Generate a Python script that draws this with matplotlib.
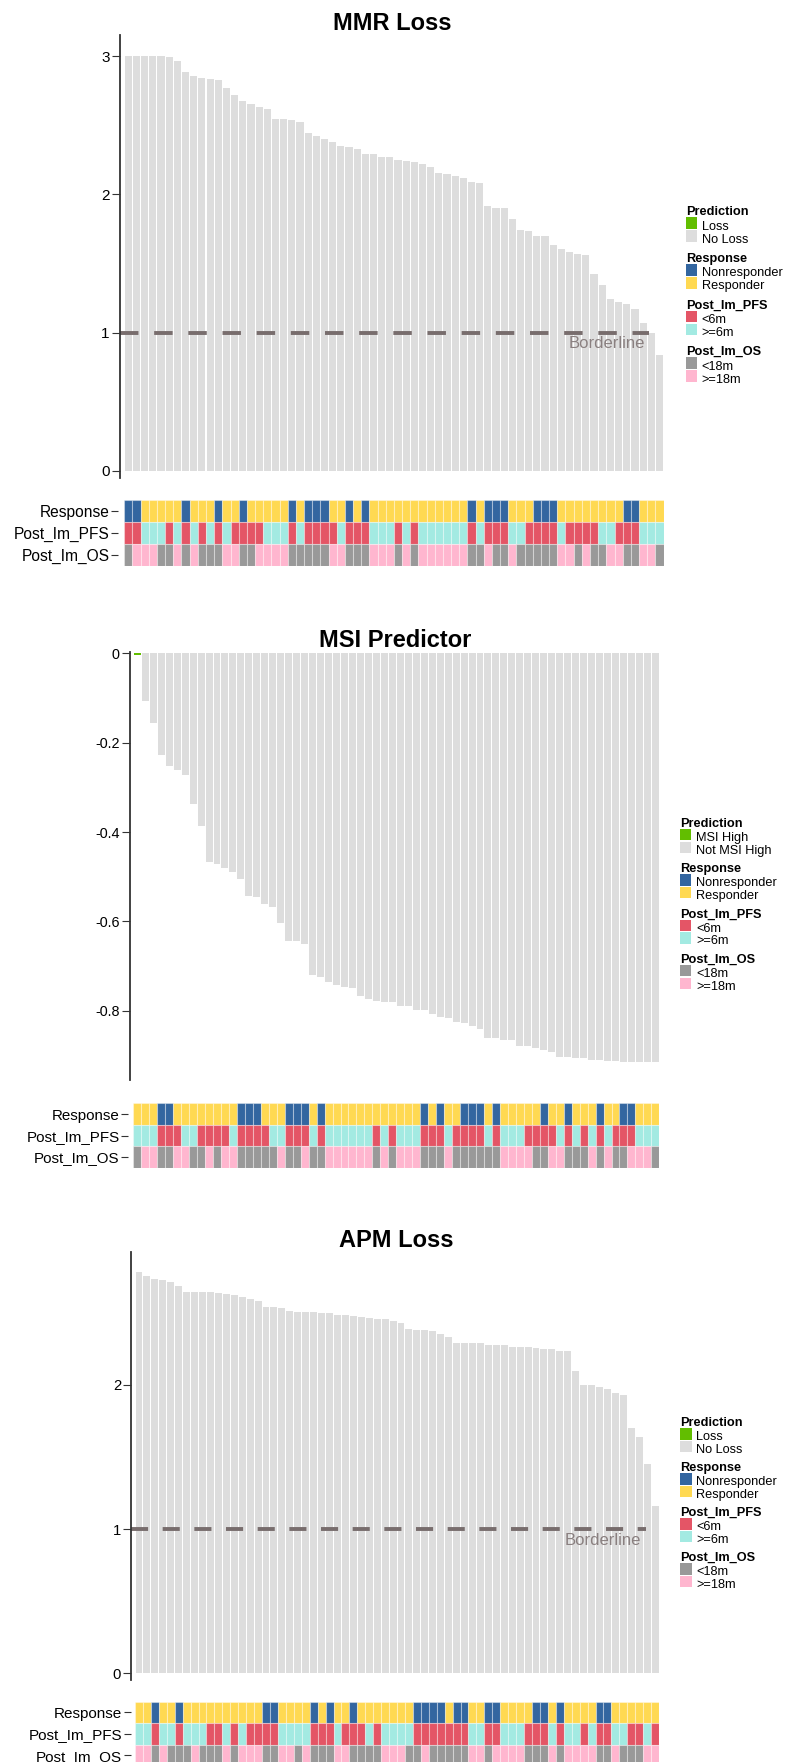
import matplotlib
matplotlib.use("Agg")
import matplotlib.pyplot as plt
from matplotlib.patches import Rectangle

plt.rcParams['font.family'] = ['Liberation Sans', 'DejaVu Sans']
plt.rcParams['axes.unicode_minus'] = False
plt.rcParams['lines.scale_dashes'] = False

# predictor scores per sample, already sorted for plotting
mmr_scores = [3.0, 3.0, 3.0, 3.0, 3.0, 2.99, 2.967, 2.883, 2.854, 2.84,
              2.837, 2.825, 2.767, 2.717, 2.673, 2.651, 2.63, 2.618, 2.545, 2.545,
              2.536, 2.524, 2.441, 2.422, 2.398, 2.381, 2.352, 2.345, 2.328, 2.294,
              2.294, 2.27, 2.268, 2.246, 2.244, 2.234, 2.222, 2.201, 2.153, 2.15,
              2.135, 2.118, 2.089, 2.08, 1.916, 1.904, 1.904, 1.819, 1.744, 1.732,
              1.698, 1.698, 1.631, 1.602, 1.585, 1.568, 1.558, 1.423, 1.341, 1.24,
              1.221, 1.206, 1.17, 1.066, 0.994, 0.837]
msi_scores = [-0.003, -0.106, -0.156, -0.228, -0.252, -0.26, -0.272, -0.337, -0.387, -0.466,
              -0.472, -0.481, -0.49, -0.506, -0.543, -0.545, -0.561, -0.567, -0.604, -0.644,
              -0.644, -0.651, -0.72, -0.724, -0.735, -0.742, -0.747, -0.749, -0.767, -0.774,
              -0.777, -0.781, -0.781, -0.79, -0.79, -0.798, -0.798, -0.808, -0.813, -0.816,
              -0.825, -0.828, -0.834, -0.841, -0.86, -0.86, -0.864, -0.864, -0.879, -0.879,
              -0.882, -0.887, -0.893, -0.903, -0.904, -0.906, -0.906, -0.909, -0.909, -0.912,
              -0.912, -0.914, -0.914, -0.914, -0.914, -0.914]
apm_scores = [2.781, 2.756, 2.735, 2.728, 2.712, 2.687, 2.647, 2.645, 2.645, 2.643,
              2.64, 2.633, 2.626, 2.608, 2.594, 2.585, 2.543, 2.539, 2.532, 2.511,
              2.509, 2.509, 2.504, 2.502, 2.497, 2.486, 2.483, 2.476, 2.472, 2.467,
              2.46, 2.458, 2.444, 2.43, 2.388, 2.384, 2.381, 2.372, 2.354, 2.335,
              2.294, 2.294, 2.294, 2.294, 2.277, 2.277, 2.277, 2.264, 2.264, 2.264,
              2.259, 2.25, 2.25, 2.236, 2.236, 2.097, 2.0, 2.0, 1.988, 1.972,
              1.945, 1.928, 1.702, 1.639, 1.45, 1.163]

# samples called positive (Loss / MSI High)
mmr_positive = []
msi_positive = [0]
apm_positive = []

# clinical tracks: 1 = Nonresponder, <6m, <18m ; 0 = Responder, >=6m, >=18m
mmr_response = [1, 1, 0, 0, 0, 0, 0, 1, 0, 0, 0, 1, 0, 0, 1, 0, 0, 0, 0, 0,
                1, 0, 1, 1, 1, 0, 0, 1, 0, 1, 0, 0, 0, 0, 0, 0, 0, 0, 0, 0,
                0, 0, 1, 0, 1, 1, 1, 0, 0, 0, 1, 1, 1, 0, 0, 0, 0, 0, 0, 0,
                0, 1, 1, 0, 0, 0]
mmr_pfs = [1, 1, 0, 0, 0, 1, 0, 1, 0, 1, 0, 1, 0, 1, 1, 1, 1, 0, 0, 0,
           1, 0, 1, 1, 1, 1, 0, 1, 1, 1, 0, 0, 0, 1, 0, 1, 0, 0, 0, 0,
           0, 0, 1, 0, 1, 1, 1, 0, 0, 1, 1, 1, 1, 0, 1, 1, 1, 1, 0, 0,
           1, 1, 1, 0, 0, 0]
mmr_os = [1, 0, 0, 0, 1, 1, 0, 1, 0, 1, 1, 1, 0, 0, 1, 1, 0, 0, 0, 0,
          1, 1, 1, 1, 1, 0, 0, 1, 1, 1, 0, 0, 0, 1, 0, 1, 0, 0, 0, 0,
          0, 0, 1, 1, 0, 1, 1, 0, 1, 1, 1, 1, 1, 0, 0, 1, 0, 1, 1, 0,
          0, 1, 1, 0, 0, 1]

msi_response = [0, 0, 0, 1, 1, 0, 0, 0, 0, 0, 0, 0, 0, 1, 1, 1, 0, 0, 0, 1,
                1, 1, 0, 1, 0, 0, 0, 0, 0, 0, 0, 0, 0, 0, 0, 0, 1, 0, 1, 0,
                0, 1, 1, 1, 0, 1, 0, 0, 0, 0, 0, 1, 0, 0, 1, 0, 0, 0, 1, 0,
                0, 1, 1, 0, 0, 0]
msi_pfs = [0, 0, 0, 1, 1, 1, 0, 0, 1, 1, 1, 1, 0, 1, 1, 1, 1, 0, 0, 1,
           1, 1, 0, 1, 0, 0, 0, 0, 0, 0, 1, 0, 1, 0, 0, 0, 1, 1, 1, 0,
           1, 1, 1, 1, 0, 1, 0, 0, 0, 1, 1, 1, 1, 0, 1, 0, 1, 0, 1, 0,
           1, 1, 1, 0, 0, 0]
msi_os = [1, 0, 0, 1, 1, 0, 0, 1, 1, 0, 1, 0, 0, 1, 1, 1, 1, 1, 0, 1,
          1, 0, 1, 1, 0, 0, 0, 0, 0, 0, 1, 0, 1, 0, 0, 0, 1, 1, 1, 0,
          1, 1, 1, 1, 1, 1, 0, 0, 0, 0, 1, 1, 0, 0, 1, 1, 1, 0, 1, 0,
          1, 1, 0, 0, 0, 1]

apm_response = [0, 0, 1, 0, 0, 1, 0, 0, 0, 0, 0, 0, 0, 0, 0, 0, 1, 1, 0, 0,
                0, 0, 1, 0, 1, 0, 0, 1, 0, 0, 0, 0, 0, 0, 0, 1, 1, 1, 1, 0,
                1, 1, 0, 0, 1, 1, 0, 0, 0, 0, 1, 1, 0, 1, 0, 0, 0, 0, 1, 1,
                0, 0, 0, 0, 0, 0]
apm_pfs = [0, 0, 1, 0, 0, 1, 0, 0, 0, 1, 1, 0, 1, 0, 1, 1, 1, 1, 0, 0,
           0, 0, 1, 1, 1, 0, 1, 1, 1, 0, 1, 0, 0, 0, 0, 1, 1, 1, 1, 1,
           1, 1, 0, 0, 1, 1, 0, 0, 0, 1, 1, 1, 0, 1, 0, 0, 1, 0, 1, 1,
           0, 0, 1, 1, 0, 1]
apm_os = [0, 0, 1, 0, 1, 1, 1, 0, 1, 1, 1, 0, 1, 0, 0, 0, 1, 1, 0, 0,
          1, 0, 1, 1, 1, 0, 0, 1, 1, 1, 1, 0, 0, 0, 1, 1, 0, 1, 1, 1,
          1, 1, 0, 0, 1, 0, 0, 0, 0, 1, 1, 1, 0, 1, 0, 0, 0, 0, 1, 1,
          0, 1, 1, 1, 0, 0]

track_names = ["Response", "Post_Im_PFS", "Post_Im_OS"]

GREEN = '#62be00'
NOPRED = '#dddddd'
BLUE = '#3366a0'
YELLOW = '#ffd952'
RED = '#e45566'
CYAN = '#a3eae2'
DGRAY = '#999999'
PINK = '#ffb6cf'
AXIS = '#333333'
LINE = '#786d6d'

track_colors = [(BLUE, YELLOW), (RED, CYAN), (DGRAY, PINK)]

W, H = 787, 1762
fig = plt.figure(figsize=(W / 100, H / 100), dpi=100, facecolor='white')


def px_axes(x0, y0, x1, y1):
    return fig.add_axes([x0 / W, 1 - y1 / H, (x1 - x0) / W, (y1 - y0) / H])


def px_text(x, y, s, **kw):
    fig.text(x / W, 1 - y / H, s, **kw)


def bar_panel(scores, positive, axis_x, x0, step, y_top, y_bot, zero_y, unit,
              ticks, tick_labels, tick_size):
    n = len(scores)
    ax = px_axes(axis_x, y_top, x0 + n * step, y_bot)
    colors = [GREEN if i in positive else NOPRED for i in range(n)]
    gap = 1.0 / step
    ax.bar([i + gap / 2 for i in range(n)], scores, width=1 - gap, align='edge',
           color=colors, linewidth=0)
    ax.set_xlim(-(x0 - axis_x) / step, n)
    ax.set_ylim((zero_y - y_bot) / unit, (zero_y - y_top) / unit)
    for side in ['top', 'right', 'bottom']:
        ax.spines[side].set_visible(False)
    ax.spines['left'].set_color(AXIS)
    ax.spines['left'].set_linewidth(1.3)
    ax.set_xticks([])
    ax.set_yticks(ticks)
    ax.set_yticklabels(tick_labels, fontsize=tick_size)
    ax.tick_params(axis='y', length=5.8, width=0.8, color=AXIS, pad=1.5)
    ax.patch.set_alpha(0)
    return ax


def track_panel(rows, axis_x, x0, step, y_top, y_bot, label_size):
    n = len(rows[0])
    ax = px_axes(axis_x, y_top, x0 + n * step, y_bot)
    for r, (vals, (c_yes, c_no)) in enumerate(zip(rows, track_colors)):
        ax.bar(range(n), [1] * n, bottom=2 - r, width=1, align='edge',
               color=[c_yes if v else c_no for v in vals],
               edgecolor=(1, 1, 1, 0.35), linewidth=0.8)
    ax.set_xlim(-(x0 - axis_x) / step, n)
    ax.set_ylim(0, 3)
    ax.set_xticks([])
    ax.set_yticks([2.5, 1.5, 0.5])
    ax.set_yticklabels(track_names, fontsize=label_size)
    ax.tick_params(axis='y', length=5, width=0.8, color=AXIS, pad=1.2)
    for s in ax.spines.values():
        s.set_visible(False)
    ax.patch.set_alpha(0)


def legend_block(x_sw, x_txt, y_base, gap, size, step, pred_labels):
    groups = [("Prediction", pred_labels, [GREEN, NOPRED]),
              ("Response", ["Nonresponder", "Responder"], [BLUE, YELLOW]),
              ("Post_Im_PFS", ["<6m", ">=6m"], [RED, CYAN]),
              ("Post_Im_OS", ["<18m", ">=18m"], [DGRAY, PINK])]
    for g, (title, labels, cols) in enumerate(groups):
        yb = y_base + g * gap
        px_text(x_sw, yb, title, fontsize=9.2, fontweight='bold', va='baseline')
        for i, (lab, col) in enumerate(zip(labels, cols)):
            top = yb + 2.3 + i * step
            fig.add_artist(Rectangle((x_sw / W, 1 - (top + size) / H), size / W, size / H,
                                     color=col, linewidth=0, transform=fig.transFigure))
            px_text(x_txt, top + size + 0.7, lab, fontsize=9.2, va='baseline')


def borderline(ax, axis_x, x_end, x_right, period_pt, text_right, text_base):
    on = period_pt * 0.54
    ax.axhline(1, xmin=0, xmax=(x_end - axis_x) / (x_right - axis_x), color=LINE,
               linewidth=2.8, linestyle=(0, (on, period_pt - on)), dash_capstyle='butt')
    px_text(text_right, text_base, "Borderline", fontsize=12, color='#8a8080',
            ha='right', va='baseline')


# MMR Loss
px_text(392.3, 30, "MMR Loss", fontsize=17, fontweight='bold', ha='center', va='baseline')
ax = bar_panel(mmr_scores, mmr_positive, 120, 124.3, 8.17, 35, 478, 470.7, 138.2,
               [0, 1, 2, 3], ['0', '1', '2', '3'], 11)
borderline(ax, 120, 649.3, 124.3 + 66 * 8.17, 24.6, 645, 348.3)
track_panel([mmr_response, mmr_pfs, mmr_os], 118.3, 124.3, 8.17, 500, 566, 11.2)
legend_block(685.7, 701.7, 215, 46.7, 11.7, 13, ["Loss", "No Loss"])

# MSI Predictor
px_text(395.5, 647.3, "MSI Predictor", fontsize=17, fontweight='bold', ha='center', va='baseline')
bar_panel(msi_scores, msi_positive, 130, 133.3, 7.97, 652, 1080, 653.3, 447,
          [0, -0.2, -0.4, -0.6, -0.8], ['0', '-0.2', '-0.4', '-0.6', '-0.8'], 10.4)
track_panel([msi_response, msi_pfs, msi_os], 128.3, 133.3, 7.97, 1103.3, 1167.7, 10.9)
legend_block(680, 696, 826.7, 45.3, 11.3, 12.7, ["MSI High", "Not MSI High"])

# APM Loss
px_text(395.8, 1246.7, "APM Loss", fontsize=17, fontweight='bold', ha='center', va='baseline')
ax = bar_panel(apm_scores, apm_positive, 131.3, 135, 7.94, 1252.3, 1680, 1673.3, 144.2,
               [0, 1, 2], ['0', '1', '2'], 10.7)
borderline(ax, 131.3, 645.7, 135 + 66 * 7.94, 22.8, 641, 1545)
track_panel([apm_response, apm_pfs, apm_os], 130.7, 135, 7.94, 1701.7, 1766.2, 11)
legend_block(680.3, 696.3, 1426, 45, 11.3, 12.7, ["Loss", "No Loss"])

fig.savefig("out.png", dpi=100, facecolor='white')
